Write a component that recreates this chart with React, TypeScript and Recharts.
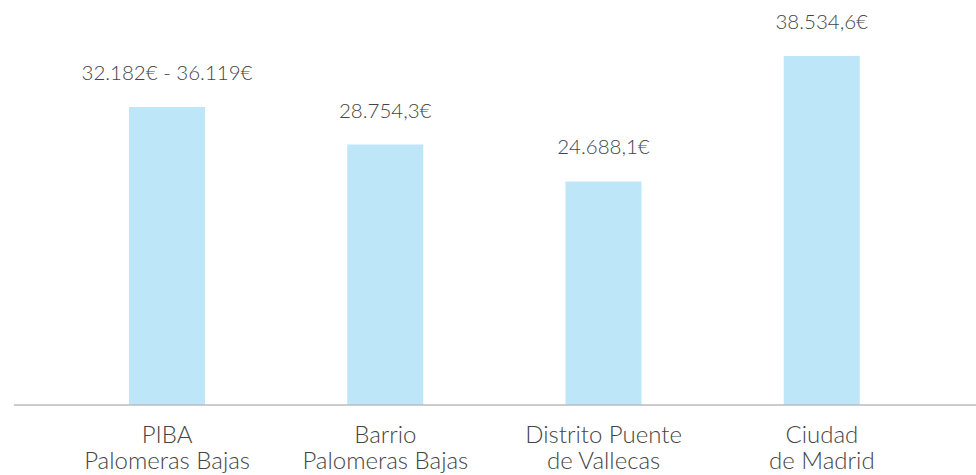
import { BarChart, Bar, XAxis, YAxis, LabelList } from 'recharts'

// heights; the first bar stands for a range
const categories = ['PIBA|Palomeras Bajas', 'Barrio|Palomeras Bajas', 'Distrito Puente|de Vallecas', 'Ciudad|de Madrid']
const values = [32900, 28754.3, 24688.1, 38534.6]
const valueLabels = ['32.182€ - 36.119€', '28.754,3€', '24.688,1€', '38.534,6€']

const data = categories.map((name, i) => ({ name, value: values[i], label: valueLabels[i] }))

const font = 'Lato, "Open Sans", sans-serif'
const textColor = '#444'

const CategoryTick = ({ x, y, payload }: { x?: number; y?: number; payload?: { value: string } }) => {
  const lines = (payload?.value || '').split('|')
  return (
    <text x={x} y={y} textAnchor="middle" fill={textColor} fontFamily={font} fontWeight={300} fontSize={24}>
      {lines.map((line, i) => (
        <tspan key={i} x={x} dy={i === 0 ? 30 : 26}>{line}</tspan>
      ))}
    </text>
  )
}

const ValueLabel = (props: { x?: number; y?: number; width?: number; value?: string }) => {
  const { x = 0, y = 0, width = 0, value } = props
  return (
    <text x={x + width / 2} y={y - 27} textAnchor="middle" fill={textColor} fontFamily={font} fontWeight={300} fontSize={20.5}>
      {value}
    </text>
  )
}

export default function App() {
  return (
    <div style={{ position: 'absolute', left: 0, top: 0, background: '#fff' }}>
      <BarChart
        width={976}
        height={475}
        data={data}
        margin={{ top: 56, right: 0, bottom: 0, left: 14 }}
        barSize={76}
      >
        <XAxis
          dataKey="name"
          height={70}
          padding={{ left: 44, right: 45 }}
          axisLine={{ stroke: '#bbb', strokeWidth: 1.5 }}
          tickLine={false}
          interval={0}
          tick={<CategoryTick />}
        />
        <YAxis hide domain={[0, 38534.6]} />
        <Bar dataKey="value" fill="#bde6f8" isAnimationActive={false}>
          <LabelList dataKey="label" content={<ValueLabel />} />
        </Bar>
      </BarChart>
    </div>
  )
}
